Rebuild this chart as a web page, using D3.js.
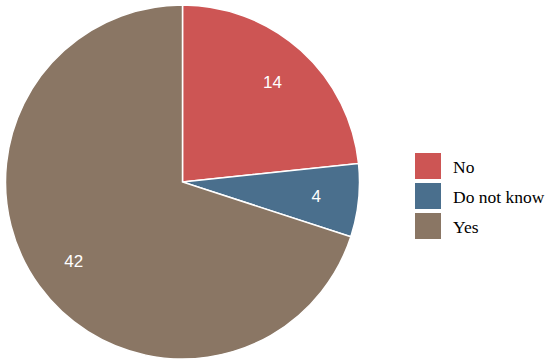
<!DOCTYPE html>
<html>
<head>
<meta charset="utf-8">
<script src="https://cdn.jsdelivr.net/npm/d3@7"></script>
<style>
  body { margin: 0; background: #fff; }
</style>
</head>
<body>
<svg id="chart"></svg>
<script>
// chart data
const categories = ["No", "Do not know", "Yes"];
const values = [14, 4, 42];
const colors = ["#cd5554", "#4a6f8d", "#8a7664"];

const width = 550, height = 364;
const cx = 182.5, cy = 182, radius = 177;

const svg = d3.select("#chart")
  .attr("width", width)
  .attr("height", height);

const data = categories.map((c, i) => ({ name: c, value: values[i] }));

const pie = d3.pie().sort(null).value(d => d.value);
const arcs = pie(data);

const arc = d3.arc().innerRadius(0).outerRadius(radius);
const labelArc = d3.arc().innerRadius(radius * 0.76).outerRadius(radius * 0.76);

const g = svg.append("g")
  .attr("transform", "translate(" + cx + "," + cy + ")");

g.selectAll(".slice")
  .data(arcs)
  .enter().append("path")
  .attr("class", "slice")
  .attr("d", arc)
  .attr("fill", (d, i) => colors[i])
  .attr("stroke", "#fff")
  .attr("stroke-width", 1.5);

// value labels
g.selectAll(".val")
  .data(arcs)
  .enter().append("text")
  .attr("class", "val")
  .attr("transform", d => "translate(" + labelArc.centroid(d) + ")")
  .attr("text-anchor", "middle")
  .attr("dy", "0.35em")
  .attr("fill", "#fff")
  .style("font-family", "'Liberation Sans', Arial, sans-serif")
  .style("font-size", "17px")
  .text(d => d.data.value);

// legend
const legend = svg.append("g")
  .attr("transform", "translate(415,153)");

const item = legend.selectAll(".item")
  .data(data)
  .enter().append("g")
  .attr("class", "item")
  .attr("transform", (d, i) => "translate(0," + i * 30 + ")");

item.append("rect")
  .attr("width", 26)
  .attr("height", 26)
  .attr("fill", (d, i) => colors[i]);

item.append("text")
  .attr("x", 38)
  .attr("y", 20)
  .style("font-family", "'Liberation Serif', 'Times New Roman', serif")
  .style("font-size", "17.5px")
  .attr("fill", "#000")
  .text(d => d.name);
</script>
</body>
</html>
